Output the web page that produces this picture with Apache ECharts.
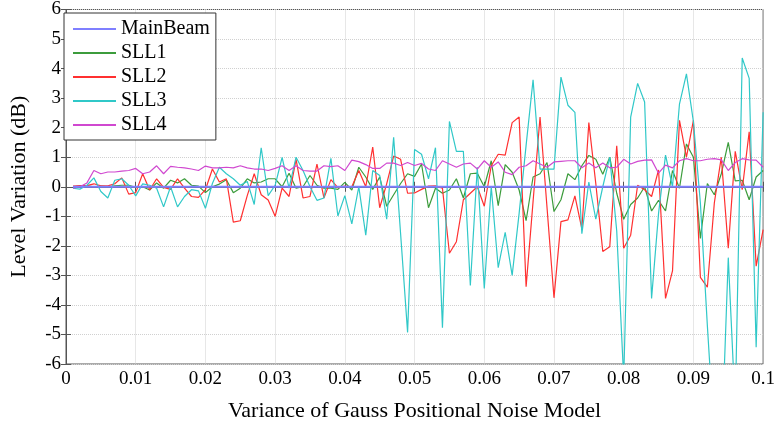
<!DOCTYPE html>
<html>
<head>
<meta charset="utf-8">
<script src="https://cdn.jsdelivr.net/npm/echarts@6/dist/echarts.min.js"></script>
<style>
  html, body { margin: 0; padding: 0; background: #fff; }
  #levelChart { width: 778px; height: 427px; }
</style>
</head>
<body>
<div id="levelChart"></div>
<script>
// noise variance sampled every 0.001, from 0.001 to 0.1
var xStep = 0.001;

var mainBeam = [0,0,0,0,0,0,0,0,0,0, 0,0,0,0,0,0,0,0,0,0, 0,0,0,0,0,0,0,0,0,0, 0,0,0,0,0,0,0,0,0,0,
  0,0,0,0,0,0,0,0,0,0, 0,0,0,0,0,0,0,0,0,0, 0,0,0,0,0,0,0,0,0,0, 0,0,0,0,0,0,0,0,0,0,
  0,0,0,0,0,0,0,0,0,0, 0,0,0,0,0,0,0,0,0,0];

var sll1 = [0.0, 0.02, 0.03, 0.0, 0.02, 0.0, 0.03, 0.05, 0.05, -0.02,
  0.0, -0.11, 0.13, -0.05, 0.22, 0.13, 0.27, 0.05, 0.02, -0.2,
  0.0, 0.09, 0.24, -0.2, -0.05, 0.27, 0.13, 0.16, 0.27, 0.27,
  0.0, 0.46, -0.05, 0.0, 0.38, 0.05, -0.05, -0.05, -0.09, 0.15,
  -0.11, 0.66, 0.33, -0.09, 0.33, -0.66, -0.27, 0.11, 0.44, 0.35,
  0.77, -0.71, -0.05, -0.22, -0.11, 0.27, -0.38, 0.44, 0.46, 0.0,
  0.88, -0.64, 0.75, 0.49, -0.11, -1.15, 0.33, 0.44, 0.82, -0.84,
  -0.44, 0.44, 0.24, 0.71, 1.06, 0.93, 0.42, 1.0, -0.22, -1.1,
  -0.6, -0.38, 0.0, -0.82, -0.46, -0.82, 0.55, -0.05, 1.45, 1.0,
  -1.75, 0.11, -0.27, 0.44, 1.5, 0.2, 0.22, -0.44, 0.33, 0.55];

var sll2 = [0.02, 0.04, 0.04, 0.1, 0.03, 0.03, 0.1, 0.3, -0.25, -0.2,
  0.44, -0.11, 0.27, -0.02, -0.09, 0.27, -0.05, -0.33, -0.36, -0.1,
  0.6, 0.16, 0.27, -1.2, -1.15, -0.3, 0.44, -0.27, -0.45, -1.0,
  -0.05, -0.33, 0.93, -0.38, -0.33, 0.77, -0.38, 0.24, -0.03, 0.02,
  0.0, 0.55, 0.0, 1.34, -0.71, 0.1, 1.04, 0.93, -0.22, -0.21,
  -0.09, 0.02, 0.03, -0.05, -2.25, -1.86, -0.44, -0.22, 0.0, -0.66,
  0.71, 1.1, 1.07, 2.17, 2.36, -3.38, -0.5, 2.36, -0.7, -3.76,
  -1.18, -1.12, -0.31, -1.43, 2.17, 0.1, -2.19, -2.03, 1.39, -2.08,
  -1.64, 0.05, -0.1, -0.33, 0.57, -3.78, -2.85, 2.25, 1.0, 2.25,
  -3.07, -3.4, -0.55, 1.0, -2.08, 1.2, -0.1, 1.86, -2.69, -1.45];

var sll3 = [-0.05, -0.08, 0.05, 0.3, -0.16, -0.38, 0.22, 0.27, 0.05, -0.31,
  0.1, 0.05, -0.05, -0.68, 0.0, -0.68, -0.33, -0.1, -0.14, -0.73,
  0.11, 0.66, 0.44, 0.27, 0.05, 0.18, -0.6, 1.32, -0.3, 0.05,
  0.99, -0.05, 1.0, 0.55, 0.0, -0.46, -0.38, 0.96, -0.99, -0.3,
  -1.26, 0.0, -1.64, 0.55, 0.38, -1.1, 1.67, -1.6, -4.93, 1.26,
  1.1, 0.27, 1.32, -4.77, 2.21, 1.2, 1.2, -3.34, 0.66, -3.44,
  0.0, -2.74, -1.54, -3.0, -0.9, 1.4, 3.62, 0.6, 0.6, 0.6,
  3.71, 2.76, 2.52, -1.59, 0.16, -1.1, 0.0, 1.0, -1.5, -6.5,
  2.36, 3.5, 2.87, -3.78, -0.9, 1.07, 0.0, 2.8, 3.82, 2.2,
  -0.55, -4.7, -8.5, -9.0, -2.4, -7.5, 4.36, 3.67, -5.43, 2.52];

var sll4 = [-0.05, 0.0, 0.13, 0.55, 0.44, 0.5, 0.5, 0.53, 0.55, 0.62,
  0.44, 0.5, 0.71, 0.44, 0.69, 0.66, 0.64, 0.6, 0.55, 0.7,
  0.64, 0.64, 0.66, 0.64, 0.71, 0.64, 0.6, 0.6, 0.55, 0.62,
  0.71, 0.55, 0.71, 0.55, 0.53, 0.53, 0.71, 0.68, 0.71, 0.55,
  0.9, 0.85, 0.75, 0.62, 0.62, 0.8, 0.8, 0.72, 0.82, 0.72,
  0.79, 0.6, 0.55, 0.88, 0.77, 0.66, 0.77, 0.8, 0.6, 0.88,
  0.66, 0.84, 0.49, 0.41, 0.66, 0.71, 0.88, 0.77, 0.66, 0.84,
  0.86, 0.88, 0.88, 0.64, 0.8, 0.64, 0.8, 0.64, 0.66, 0.93,
  0.77, 0.86, 0.9, 0.91, 0.46, 0.73, 0.64, 0.88, 0.95, 0.88,
  0.88, 0.93, 0.95, 0.91, 0.55, 0.82, 0.95, 0.91, 0.9, 0.66];

var seriesNames = ['MainBeam', 'SLL1', 'SLL2', 'SLL3', 'SLL4'];
var seriesValues = [mainBeam, sll1, sll2, sll3, sll4];
var colors = ['#7f7fff', '#3c9c3c', '#ff3030', '#30c8c8', '#d048d0'];

var serif = '"Liberation Serif", "Times New Roman", serif';

function pairs(values) {
  return values.map(function (v, i) { return [(i + 1) * xStep, v]; });
}

var chart = echarts.init(document.getElementById('levelChart'));

var option = {
  animation: false,
  color: colors,
  textStyle: { fontFamily: serif, color: '#000' },
  grid: {
    left: 57, right: 12, top: 7, bottom: 55,
    show: true, borderColor: '#555', borderWidth: 1, backgroundColor: '#fff'
  },
  legend: {
    orient: 'vertical',
    left: 64,
    top: 13,
    data: seriesNames,
    icon: 'rect',
    itemWidth: 43,
    itemHeight: 2,
    itemGap: 4,
    padding: [6, 6, 5, 9],
    borderColor: '#333',
    borderWidth: 1,
    backgroundColor: '#fff',
    textStyle: { fontFamily: serif, fontSize: 20, color: '#000', lineHeight: 20 }
  },
  xAxis: [
    {
      type: 'value',
      min: 0, max: 0.1, interval: 0.01,
      name: 'Variance of Gauss Positional Noise Model',
      nameLocation: 'middle',
      nameGap: 36,
      nameTextStyle: { fontFamily: serif, fontSize: 22, color: '#000' },
      axisLine: { show: true, lineStyle: { color: '#555' } },
      axisTick: { show: true, inside: true, length: 5, lineStyle: { color: '#555' } },
      axisLabel: {
        fontFamily: serif, fontSize: 19, color: '#000', margin: 6,
        formatter: function (v) { return String(+v.toFixed(3)); }
      },
      splitLine: { show: true, lineStyle: { color: '#d0d0d0', type: 'dotted' } }
    },
    {
      type: 'value', position: 'top',
      min: 0, max: 0.1, interval: 0.01,
      axisLine: { show: true, lineStyle: { color: '#555' } },
      axisTick: { show: true, inside: true, length: 5, lineStyle: { color: '#555' } },
      axisLabel: { show: false },
      splitLine: { show: false }
    }
  ],
  yAxis: [
    {
      type: 'value',
      min: -6, max: 6, interval: 1,
      name: 'Level Variation (dB)',
      nameLocation: 'middle',
      nameGap: 36,
      nameTextStyle: { fontFamily: serif, fontSize: 22, color: '#000' },
      axisLine: { show: true, lineStyle: { color: '#555' } },
      axisTick: { show: true, inside: true, length: 5, lineStyle: { color: '#555' } },
      axisLabel: { fontFamily: serif, fontSize: 19, color: '#000', margin: 5 },
      splitLine: { show: true, lineStyle: { color: '#d0d0d0', type: 'dotted' } }
    },
    {
      type: 'value', position: 'right',
      min: -6, max: 6, interval: 1,
      axisLine: { show: true, lineStyle: { color: '#555' } },
      axisTick: { show: true, inside: true, length: 5, lineStyle: { color: '#555' } },
      axisLabel: { show: false },
      splitLine: { show: false }
    }
  ],
  series: seriesNames.map(function (name, k) {
    return {
      name: name,
      type: 'line',
      data: pairs(seriesValues[k]),
      showSymbol: false,
      symbol: 'none',
      clip: true,
      z: k === 0 ? 3 : 2,
      lineStyle: { width: k === 0 ? 2 : 1.2, color: colors[k] }
    };
  })
};

chart.setOption(option);
</script>
</body>
</html>
